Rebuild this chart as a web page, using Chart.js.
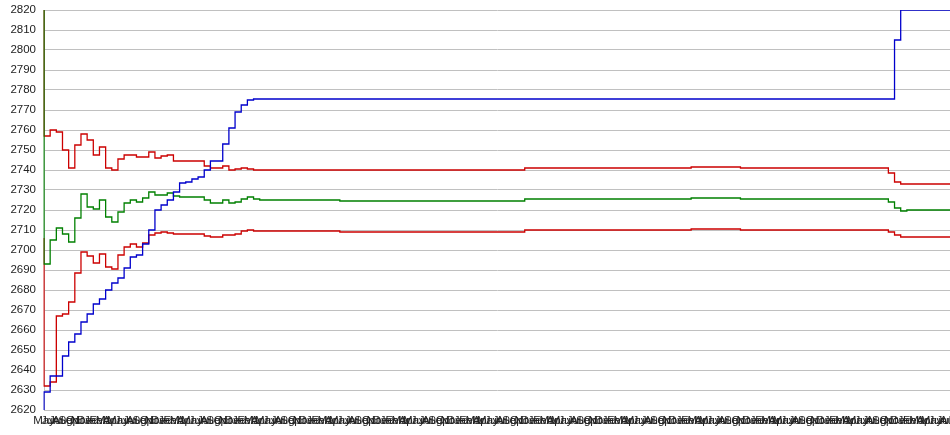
<!DOCTYPE html>
<html>
<head>
<meta charset="utf-8">
<script src="https://cdn.jsdelivr.net/npm/chart.js@4/dist/chart.umd.min.js"></script>
<style>
html, body { margin: 0; padding: 0; background: #ffffff; overflow: hidden; }
#wrap { width: 950px; height: 435px; }
</style>
</head>
<body>
<div id="wrap"><canvas id="c" width="950" height="435"></canvas></div>
<script>
// Monthly category labels (148 points)
const monthLabels = [
  "May","Jun","Jul","Aug","Sep","Oct","Nov","Dec","Jan","Feb","Mar","Apr",
  "May","Jun","Jul","Aug","Sep","Oct","Nov","Dec","Jan","Feb","Mar","Apr",
  "May","Jun","Jul","Aug","Sep","Oct","Nov","Dec","Jan","Feb","Mar","Apr",
  "May","Jun","Jul","Aug","Sep","Oct","Nov","Dec","Jan","Feb","Mar","Apr",
  "May","Jun","Jul","Aug","Sep","Oct","Nov","Dec","Jan","Feb","Mar","Apr",
  "May","Jun","Jul","Aug","Sep","Oct","Nov","Dec","Jan","Feb","Mar","Apr",
  "May","Jun","Jul","Aug","Sep","Oct","Nov","Dec","Jan","Feb","Mar","Apr",
  "May","Jun","Jul","Aug","Sep","Oct","Nov","Dec","Jan","Feb","Mar","Apr",
  "May","Jun","Jul","Aug","Sep","Oct","Nov","Dec","Jan","Feb","Mar","Apr",
  "May","Jun","Jul","Aug","Sep","Oct","Nov","Dec","Jan","Feb","Mar","Apr",
  "May","Jun","Jul","Aug","Sep","Oct","Nov","Dec","Jan","Feb","Mar","Apr",
  "May","Jun","Jul","Aug","Sep","Oct","Nov","Dec","Jan","Feb","Mar","Apr",
  "May","Jun","Jul","Aug"
];

// Blue cumulative series
const blueSeries = [
  2620, 2629, 2637, 2637, 2647, 2654, 2658, 2664, 2668, 2673,
  2675.5, 2680, 2683.5, 2686, 2691, 2696.5, 2697.5, 2703, 2710, 2720,
  2722.5, 2725, 2729, 2733.5, 2734, 2735.5, 2736.5, 2740, 2744.5, 2744.5,
  2753, 2761, 2769, 2772.5, 2775,
  2775.5, 2775.5, 2775.5, 2775.5, 2775.5, 2775.5, 2775.5, 2775.5, 2775.5, 2775.5,
  2775.5, 2775.5, 2775.5, 2775.5, 2775.5, 2775.5, 2775.5, 2775.5, 2775.5, 2775.5,
  2775.5, 2775.5, 2775.5, 2775.5, 2775.5, 2775.5, 2775.5, 2775.5, 2775.5, 2775.5,
  2775.5, 2775.5, 2775.5, 2775.5, 2775.5, 2775.5, 2775.5, 2775.5, 2775.5, 2775.5,
  2775.5, 2775.5, 2775.5, 2775.5, 2775.5, 2775.5, 2775.5, 2775.5, 2775.5, 2775.5,
  2775.5, 2775.5, 2775.5, 2775.5, 2775.5, 2775.5, 2775.5, 2775.5, 2775.5, 2775.5,
  2775.5, 2775.5, 2775.5, 2775.5, 2775.5, 2775.5, 2775.5, 2775.5, 2775.5, 2775.5,
  2775.5, 2775.5, 2775.5, 2775.5, 2775.5, 2775.5, 2775.5, 2775.5, 2775.5, 2775.5,
  2775.5, 2775.5, 2775.5, 2775.5, 2775.5, 2775.5, 2775.5, 2775.5, 2775.5, 2775.5,
  2775.5, 2775.5, 2775.5, 2775.5, 2775.5, 2775.5, 2775.5, 2775.5, 2775.5, 2775.5,
  2775.5, 2775.5, 2775.5, 2775.5,
  2805,
  2820, 2820, 2820, 2820, 2820, 2820, 2820, 2820
];

// Green middle series
const greenSeries = [
  2820, 2693, 2705, 2711, 2708, 2704, 2716, 2728, 2721.5, 2720.5,
  2725, 2716.5, 2714, 2719, 2723.5, 2725, 2724, 2726, 2729, 2727.5,
  2727.5, 2728.5, 2727, 2726.5, 2726.5, 2726.5, 2726.5, 2725, 2723.5, 2723.5,
  2725, 2723.5, 2724, 2725.5, 2726.5, 2725.5,
  2725, 2725, 2725, 2725, 2725, 2725, 2725, 2725, 2725, 2725, 2725, 2725, 2725,
  2724.5, 2724.5, 2724.5, 2724.5, 2724.5, 2724.5, 2724.5, 2724.5, 2724.5, 2724.5,
  2724.5, 2724.5, 2724.5, 2724.5, 2724.5, 2724.5, 2724.5, 2724.5, 2724.5, 2724.5,
  2724.5, 2724.5, 2724.5, 2724.5, 2724.5, 2724.5, 2724.5, 2724.5, 2724.5, 2724.5,
  2725.5, 2725.5, 2725.5, 2725.5, 2725.5, 2725.5, 2725.5, 2725.5, 2725.5, 2725.5,
  2725.5, 2725.5, 2725.5, 2725.5, 2725.5, 2725.5, 2725.5, 2725.5, 2725.5, 2725.5,
  2725.5, 2725.5, 2725.5, 2725.5, 2725.5, 2725.5, 2725.5,
  2726, 2726, 2726, 2726, 2726, 2726, 2726, 2726,
  2725.5, 2725.5, 2725.5, 2725.5, 2725.5, 2725.5, 2725.5, 2725.5, 2725.5, 2725.5,
  2725.5, 2725.5, 2725.5, 2725.5, 2725.5, 2725.5, 2725.5, 2725.5, 2725.5, 2725.5,
  2725.5, 2725.5, 2725.5, 2725.5,
  2724, 2721, 2719.5,
  2720, 2720, 2720, 2720, 2720, 2720, 2720
];

// Red upper band
const redUpperSeries = [
  2820, 2757, 2760, 2759, 2750, 2741, 2752.5, 2758, 2755, 2747.5,
  2751.5, 2741, 2740, 2745.5, 2747.5, 2747.5, 2746.5, 2746.5, 2749, 2746,
  2747, 2747.5, 2744.5, 2744.5, 2744.5, 2744.5, 2744.5, 2742, 2741, 2741,
  2742, 2740, 2740.5, 2741, 2740.5,
  2740, 2740, 2740, 2740, 2740, 2740, 2740, 2740, 2740, 2740,
  2740, 2740, 2740, 2740, 2740, 2740, 2740, 2740, 2740, 2740,
  2740, 2740, 2740, 2740, 2740, 2740, 2740, 2740, 2740, 2740,
  2740, 2740, 2740, 2740, 2740, 2740, 2740, 2740, 2740, 2740,
  2740, 2740, 2740, 2740,
  2741, 2741, 2741, 2741, 2741, 2741, 2741, 2741, 2741, 2741,
  2741, 2741, 2741, 2741, 2741, 2741, 2741, 2741, 2741, 2741,
  2741, 2741, 2741, 2741, 2741, 2741, 2741,
  2741.5, 2741.5, 2741.5, 2741.5, 2741.5, 2741.5, 2741.5, 2741.5,
  2741, 2741, 2741, 2741, 2741, 2741, 2741, 2741, 2741, 2741,
  2741, 2741, 2741, 2741, 2741, 2741, 2741, 2741, 2741, 2741,
  2741, 2741, 2741, 2741,
  2738.5, 2734, 2733,
  2733, 2733, 2733, 2733, 2733, 2733, 2733
];

// Red lower band
const redLowerSeries = [
  2706, 2632, 2634, 2667, 2668, 2674, 2688.5, 2699, 2697, 2693.5,
  2698, 2691.5, 2690.5, 2697.5, 2701.5, 2703, 2701.5, 2703.5, 2707.5, 2708.5,
  2709, 2708.5, 2708, 2708, 2708, 2708, 2708, 2707, 2706.5, 2706.5,
  2707.5, 2707.5, 2708, 2709.5, 2710,
  2709.5, 2709.5, 2709.5, 2709.5, 2709.5, 2709.5, 2709.5, 2709.5, 2709.5, 2709.5,
  2709.5, 2709.5, 2709.5, 2709.5,
  2709, 2709, 2709, 2709, 2709, 2709, 2709, 2709, 2709, 2709,
  2709, 2709, 2709, 2709, 2709, 2709, 2709, 2709, 2709, 2709,
  2709, 2709, 2709, 2709, 2709, 2709, 2709, 2709, 2709, 2709,
  2710, 2710, 2710, 2710, 2710, 2710, 2710, 2710, 2710, 2710,
  2710, 2710, 2710, 2710, 2710, 2710, 2710, 2710, 2710, 2710,
  2710, 2710, 2710, 2710, 2710, 2710, 2710,
  2710.5, 2710.5, 2710.5, 2710.5, 2710.5, 2710.5, 2710.5, 2710.5,
  2710, 2710, 2710, 2710, 2710, 2710, 2710, 2710, 2710, 2710,
  2710, 2710, 2710, 2710, 2710, 2710, 2710, 2710, 2710, 2710,
  2710, 2710, 2710, 2710,
  2709, 2707.5, 2706.5,
  2706.5, 2706.5, 2706.5, 2706.5, 2706.5, 2706.5, 2706.5
];

const yMin = 2620, yMax = 2820, yStep = 10;

const FONT = { family: "'Liberation Sans', Arial, sans-serif", size: 11.5 };
const TEXT_COLOR = '#222222';
const GRID_COLOR = '#c0c0c0';

function lineDs(data, color) {
  return {
    data: data,
    borderColor: color,
    backgroundColor: color,
    borderWidth: 1.3,
    pointRadius: 0,
    fill: false,
    stepped: 'after',
    tension: 0
  };
}

new Chart(document.getElementById('c'), {
  type: 'line',
  data: {
    labels: monthLabels,
    datasets: [
      lineDs(blueSeries, '#0000cc'),
      lineDs(greenSeries, '#008000'),
      lineDs(redUpperSeries, '#cc0000'),
      lineDs(redLowerSeries, '#cc0000')
    ]
  },
  options: {
    responsive: false,
    animation: false,
    events: [],
    layout: { padding: { top: 10, right: 0, bottom: 0, left: 0 } },
    plugins: { legend: { display: false }, tooltip: { enabled: false }, title: { display: false } },
    scales: {
      x: {
        type: 'category',
        grid: { display: false, drawTicks: false },
        border: { display: false },
        ticks: {
          autoSkip: false, maxRotation: 0, minRotation: 0,
          padding: 4, font: FONT, color: TEXT_COLOR
        },
        afterFit: function (s) { s.height = 25; s.paddingLeft = 0; s.paddingRight = 0; }
      },
      y: {
        min: yMin, max: yMax,
        ticks: {
          stepSize: yStep, padding: 8, font: FONT, color: TEXT_COLOR,
          callback: function (v) { return String(v); }
        },
        grid: { color: GRID_COLOR, lineWidth: 1, drawTicks: false },
        border: { display: true, color: GRID_COLOR, width: 1 },
        afterFit: function (s) { s.width = 44; s.paddingTop = 0; s.paddingBottom = 0; }
      }
    }
  }
});
</script>
</body>
</html>
